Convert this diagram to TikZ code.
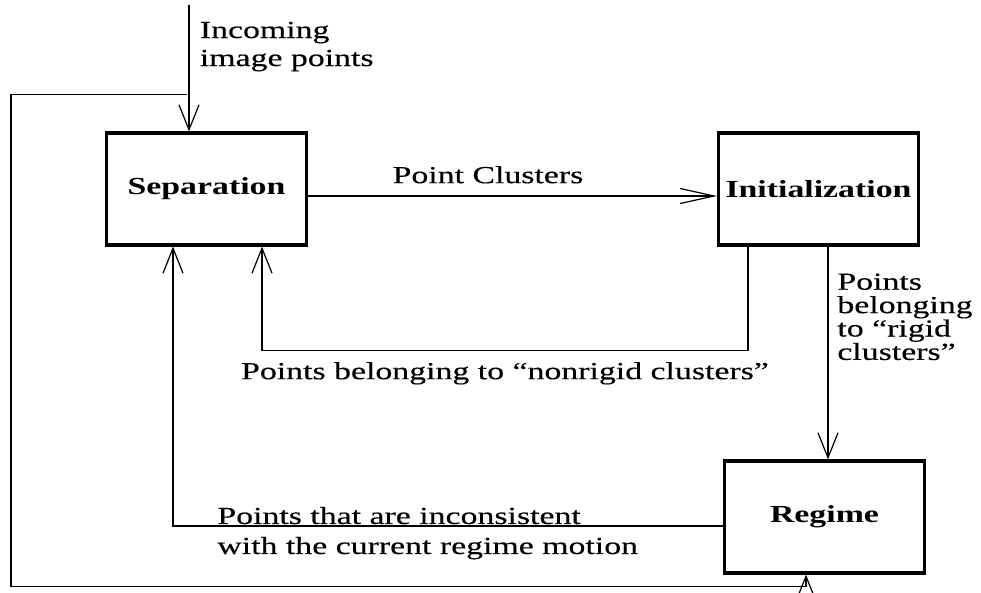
\documentclass[tikz,border=0pt]{standalone}
\usepackage{fontspec}
\setmainfont{Liberation Serif}[FakeStretch=1.38, UprightFeatures={FakeBold=0.3}]
\usetikzlibrary{arrows.meta, positioning}

\begin{document}
\begin{tikzpicture}[>={Straight Barb[length=12.5pt,width=10pt]}, font=\fontsize{12.25}{14}\selectfont]
\tikzstyle{stage} = [draw, line width=1.6pt, minimum width=100pt, minimum height=56pt, inner sep=0pt, font=\fontsize{12.25}{14}\selectfont\bfseries]
\tikzstyle{flowlabel} = [inner sep=0pt, align=left]
\tikzstyle{flow} = [semithick]

\useasboundingbox (-103.25pt,94.5pt) rectangle (387.25pt,-202pt);

%draw stages
\node [stage, name = separation]{Separation};
\node [stage, name = init, right of = separation, node distance = 306pt]{Initialization};
\node [stage, name = regime, below of = init, node distance = 164pt, xshift = 3pt]{Regime};

%incoming points
\coordinate [name = intop, above left = 63pt and 8.75pt of separation.north];
\draw [flow, ->] (intop) -- (intop |- separation.north);
\node (inlabel) [flowlabel, below right = 8pt and 5.25pt of intop] {Incoming\\image points};

%loop round to regime
\coordinate [name = loopstart, below left = 44.5pt and 1pt of intop];
\coordinate [name = loopleft, left = 88pt of loopstart];
\coordinate [name = loopend, left = 9.25pt of regime.south];
\draw [flow, ->] (loopstart) -- (loopleft) |- ([yshift=-6pt]loopend) -- (loopend);

%point clusters
\draw [flow, -{Straight Barb[length=17pt,width=7.5pt]}] ([yshift=-3.5pt]separation.east) -- node (clusterlabel) [flowlabel, above=6pt, pos=0.44] {Point Clusters} ([yshift=-3.5pt]init.west);

%nonrigid back to separation
\coordinate [name = nrstart, left = 35.25pt of init.south];
\coordinate [name = nrend, right = 27.75pt of separation.south];
\draw [flow, ->] (nrstart) -- ++(0,-52pt) -| node (nonrigidlabel) [flowlabel, below=5.5pt, pos=0.25] {Points belonging to ``nonrigid clusters''} (nrend);

%rigid on to regime
\coordinate [name = rgstart, right = 4.75pt of init.south];
\draw [flow, ->] (rgstart) -- (rgstart |- regime.north);
\node (rigidlabel) [flowlabel, below right = 13.25pt and 4.5pt of rgstart, font=\fontsize{12.25}{11.7}\selectfont] {Points\\belonging\\to ``rigid\\clusters''};

%inconsistent back to separation
\coordinate [name = icstart, below = 4.5pt of regime.west];
\coordinate [name = icend, left = 16.75pt of separation.south];
\draw [flow, ->] (icstart) -| (icend);
\node (inconsistlabel) [flowlabel, below right = 130pt and 22pt of icend, font=\fontsize{12.25}{15}\selectfont] {Points that are inconsistent\\with the current regime motion};

\end{tikzpicture}
\end{document}
